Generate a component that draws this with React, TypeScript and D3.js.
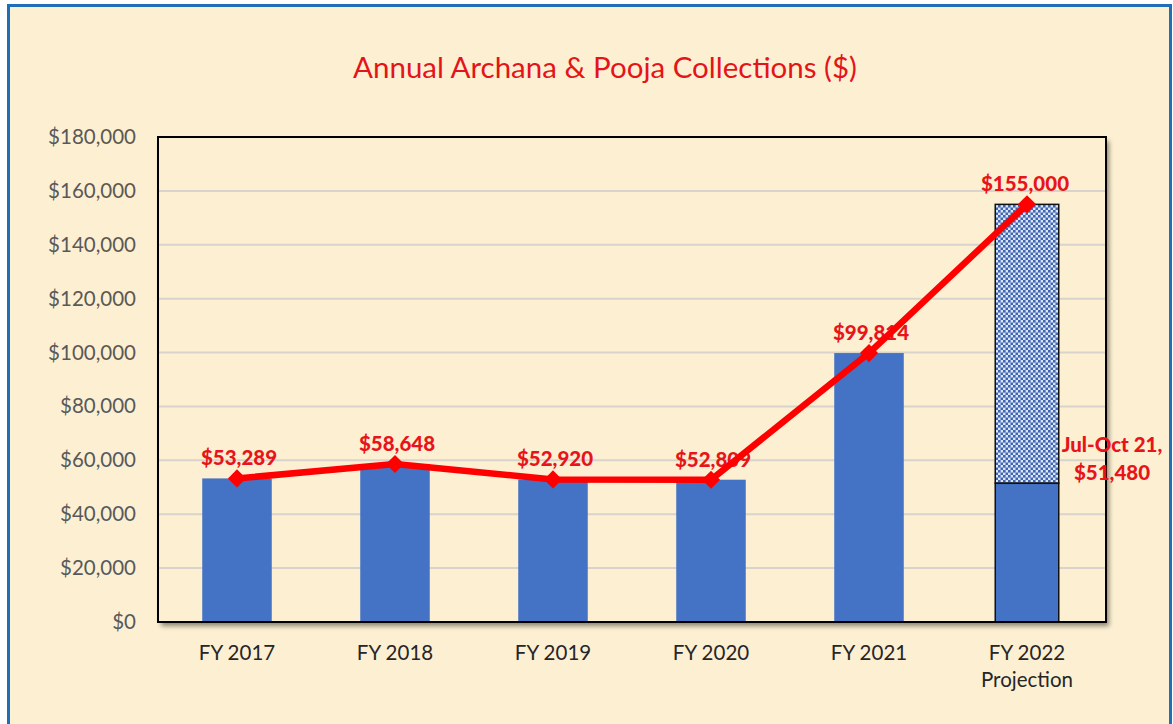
import React from "react";
import * as d3 from "d3";

const categories = ["FY 2017", "FY 2018", "FY 2019", "FY 2020", "FY 2021", "FY 2022"];
const categorySubLabels = ["", "", "", "", "", "Projection"];
const actualValues = [53289, 58648, 52920, 52809, 99814, 51480];
const projectionValues = [0, 0, 0, 0, 0, 155000];
const lineValues = [53289, 58648, 52920, 52809, 99814, 155000];
const yTicks = [0, 20000, 40000, 60000, 80000, 100000, 120000, 140000, 160000, 180000];
const title = "Annual Archana & Pooja Collections ($)";
const partialLabel = ["Jul-Oct 21,", "$51,480"];

const W = 1173;
const H = 724;
const plot = { left: 158, right: 1106, top: 137, bottom: 622 };
const FONT = "Lato, 'Open Sans', sans-serif";

export default function App() {
  const x = d3
    .scaleBand<string>()
    .domain(categories)
    .range([plot.left, plot.right])
    .paddingInner(0.56)
    .paddingOuter(0.28);
  const y = d3.scaleLinear().domain([0, 180000]).range([plot.bottom, plot.top]);
  const fmt = (v: number) => "$" + d3.format(",")(v);
  const cx = (c: string) => (x(c) as number) + x.bandwidth() / 2;

  const line = d3
    .line<number>()
    .x((_, i) => cx(categories[i]))
    .y((d) => y(d));
  const marker = d3.symbol().type(d3.symbolSquare).size(165)() as string;

  const last = categories.length - 1;

  return (
    <svg
      width={W}
      height={H}
      style={{ position: "absolute", left: 0, top: 0, display: "block" }}
      fontFamily={FONT}
    >
      <defs>
        <pattern id="checker" width="5" height="5" patternUnits="userSpaceOnUse">
          <rect width="5" height="5" fill="#DCE5F5" />
          <rect x="0" y="0" width="2.6" height="2.6" fill="#3F66B5" />
          <rect x="2.5" y="2.5" width="2.5" height="2.5" fill="#3F66B5" />
        </pattern>
        <filter id="shadow" x="-5%" y="-5%" width="110%" height="115%">
          <feDropShadow dx="3" dy="4" stdDeviation="2.5" floodColor="#000" floodOpacity="0.45" />
        </filter>
      </defs>
      <rect width={W} height={H} fill="#ffffff" />
      <rect x={8.5} y={5.5} width={1162} height={740} fill="#FDF0D2" stroke="#1F6EB6" strokeWidth={3} />

      <text x={605} y={78} textAnchor="middle" fontSize={29.5} fill="#E4141B">
        {title}
      </text>

      {/* plot box */}
      <rect
        x={plot.left}
        y={plot.top}
        width={plot.right - plot.left}
        height={plot.bottom - plot.top}
        fill="#FDF0D2"
        filter="url(#shadow)"
      />
      {yTicks.slice(1, -1).map((t) => (
        <line key={t} x1={plot.left} x2={plot.right} y1={y(t)} y2={y(t)} stroke="#D8D4CB" strokeWidth={2} />
      ))}

      {/* y tick labels */}
      {yTicks.map((t) => (
        <text key={t} x={136} y={y(t) + 7} textAnchor="end" fontSize={20.5} fill="#595959">
          {fmt(t)}
        </text>
      ))}

      {/* bars */}
      {categories.map((c, i) => {
        const isProj = projectionValues[i] > 0;
        return (
          <g key={c}>
            {isProj && (
              <rect
                x={x(c)}
                y={y(projectionValues[i])}
                width={x.bandwidth() - 6}
                height={y(actualValues[i]) - y(projectionValues[i])}
                fill="url(#checker)"
                stroke="#111"
                strokeWidth={1.5}
                transform="translate(3,0)"
              />
            )}
            <rect
              x={(x(c) as number) + (isProj ? 3 : 0)}
              y={y(actualValues[i])}
              width={x.bandwidth() - (isProj ? 6 : 0)}
              height={plot.bottom - y(actualValues[i])}
              fill="#4472C4"
              stroke={isProj ? "#111" : "none"}
              strokeWidth={1.5}
            />
          </g>
        );
      })}

      {/* plot border */}
      <rect
        x={plot.left}
        y={plot.top}
        width={plot.right - plot.left}
        height={plot.bottom - plot.top}
        fill="none"
        stroke="#000"
        strokeWidth={2}
      />

      {/* x labels */}
      {categories.map((c, i) => (
        <g key={c}>
          <text x={cx(c)} y={660} textAnchor="middle" fontSize={20.5} fill="#262626">
            {c}
          </text>
          {categorySubLabels[i] && (
            <text x={cx(c)} y={687} textAnchor="middle" fontSize={20.5} fill="#262626">
              {categorySubLabels[i]}
            </text>
          )}
        </g>
      ))}

      {/* data labels */}
      {lineValues.map((v, i) => (
        <text
          key={i}
          x={cx(categories[i]) + (i === last ? -2 : 2)}
          y={y(v) - 13}
          textAnchor="middle"
          fontSize={20.5}
          fontWeight="900"
          fill="#E8141B"
        >
          {fmt(v)}
        </text>
      ))}

      {/* line */}
      <path d={line(lineValues) as string} fill="none" stroke="#FF0000" strokeWidth={6.5} strokeLinejoin="round" />
      {lineValues.map((v, i) => (
        <path
          key={i}
          d={marker}
          transform={`translate(${cx(categories[i])},${y(v)}) rotate(45)`}
          fill="#FF0000"
        />
      ))}

      {/* partial label */}
      <text x={1112} y={452} textAnchor="middle" fontSize={20.5} fontWeight="900" fill="#E8141B">
        {partialLabel[0]}
      </text>
      <text x={1112} y={480} textAnchor="middle" fontSize={20.5} fontWeight="900" fill="#E8141B">
        {partialLabel[1]}
      </text>
    </svg>
  );
}
